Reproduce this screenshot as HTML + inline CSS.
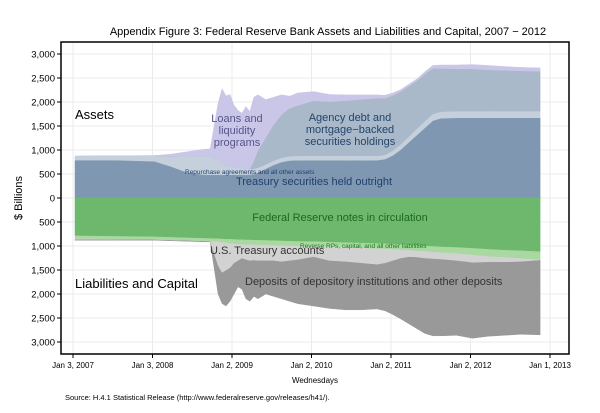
<!DOCTYPE html>
<html><head><meta charset="utf-8"><style>
body{margin:0;background:#fff}
svg{display:block;font-family:"Liberation Sans",Arial,sans-serif}
</style></head><body>
<svg id="chart" width="600" height="413" viewBox="0 0 600 413">
<text x="328" y="35" text-anchor="middle" font-size="11" fill="#000">Appendix Figure 3: Federal Reserve Bank Assets and Liabilities and Capital, 2007 − 2012</text>
<g id="grid"></g>
<g id="areas"></g>
<rect x="61" y="42" width="508" height="312" fill="none" stroke="#000" stroke-width="1.5"/>
<g id="axes" font-size="9.5"></g>
<text transform="translate(22,198) rotate(-90)" text-anchor="middle" font-size="11">$ Billions</text>
<text x="315" y="383" text-anchor="middle" font-size="8">Wednesdays</text>
<text x="65" y="400" font-size="7.5">Source: H.4.1 Statistical Release (http://www.federalreserve.gov/releases/h41/).</text>
<g font-size="11">
<text x="75" y="119" font-size="13">Assets</text>
<text x="75" y="288" font-size="13">Liabilities and Capital</text>
<g fill="#55558a" text-anchor="middle"><text x="237" y="122">Loans and</text><text x="237" y="134">liquidity</text><text x="237" y="146">programs</text></g>
<g fill="#23456b" text-anchor="middle"><text x="350" y="121">Agency debt and</text><text x="350" y="133">mortgage−backed</text><text x="350" y="145">securities holdings</text></g>
<text x="185" y="174" font-size="6.5" fill="#1f3f6f">Repurchase agreements and all other assets</text>
<text x="314" y="185" text-anchor="middle" fill="#1f3f6f">Treasury securities held outright</text>
<text x="340" y="221" text-anchor="middle" fill="#1a6a1a">Federal Reserve notes in circulation</text>
<text x="300" y="248" font-size="6.5" fill="#1a7a1a">Reverse RPs, capital, and all other liabilities</text>
<text x="210" y="254" fill="#333">U.S. Treasury accounts</text>
<text x="245" y="285" fill="#333">Deposits of depository institutions and other deposits</text>
</g>
</svg>
<script>
const times=[0,0.5,1.0,1.2,1.4,1.6,1.7,1.8,1.85,1.9,1.95,2.0,2.05,2.1,2.15,2.2,2.25,2.3,2.4,2.5,2.6,2.7,2.8,3.0,3.2,3.4,3.6,3.8,3.9,4.0,4.1,4.2,4.3,4.4,4.5,4.6,4.8,5.0,5.2,5.4,5.6,5.85];
const treasury=[780,780,755,650,530,480,476,476,476,476,476,476,476,476,476,480,490,520,600,680,740,770,777,777,777,777,777,777,800,880,1000,1150,1300,1450,1600,1650,1660,1660,1660,1660,1660,1660];
const otherAssets=[90,95,120,200,330,380,400,300,250,200,180,160,150,140,130,120,110,100,90,90,90,90,90,90,90,90,90,90,90,100,110,120,130,140,140,140,140,140,140,140,140,140];
const agency=[0,0,0,0,0,0,0,0,0,0,0,0,0,0,0,0,150,350,550,750,900,1000,1050,1150,1130,1150,1180,1200,1180,1150,1100,1050,1000,980,950,900,880,880,860,850,840,830];
const loans=[0,0,10,60,100,150,150,1200,1550,1450,1500,1300,1200,1150,1300,1200,1350,1180,810,580,420,260,270,200,160,130,100,80,70,60,50,50,50,60,70,80,90,100,100,90,80,80];
const notes=[780,790,800,810,820,830,835,840,845,850,850,855,860,860,865,865,870,870,875,880,885,890,895,900,910,920,930,940,945,950,960,970,980,990,1000,1010,1020,1040,1060,1080,1090,1110];
const rrp=[60,60,60,60,60,60,60,60,70,80,90,90,100,100,100,100,100,100,100,100,100,100,100,100,100,100,100,110,110,110,110,110,115,115,120,120,130,140,150,150,160,170];
const treasuryAcct=[20,10,0,0,0,0,0,500,635,570,510,405,340,290,315,335,320,330,325,320,335,310,285,220,290,300,320,330,295,240,180,140,135,145,140,140,150,160,120,100,70,10];
const deposits=[20,20,20,20,20,20,20,600,650,750,700,650,550,650,820,850,760,800,700,750,780,850,920,1030,1000,1010,980,930,1000,1130,1270,1400,1490,1570,1610,1600,1560,1580,1550,1530,1520,1560];
const yTicks=[3000,2500,2000,1500,1000,500,0,-500,-1000,-1500,-2000,-2500,-3000];
const xTickYears=[0,1,2,3,4,5,6];
const xTickLabels=["Jan 3, 2007","Jan 3, 2008","Jan 2, 2009","Jan 2, 2010","Jan 2, 2011","Jan 2, 2012","Jan 1, 2013"];

const NS="http://www.w3.org/2000/svg";
const X=t=>73+79.5*t+2;
const Y=v=>198-v*0.048;
function mk(tag,attrs,parent){const e=document.createElementNS(NS,tag);for(const k in attrs)e.setAttribute(k,attrs[k]);parent.appendChild(e);return e;}
const grid=document.getElementById('grid'),axes=document.getElementById('axes'),areas=document.getElementById('areas');
yTicks.forEach(v=>{
  const l=mk('line',{x1:61,x2:569,y1:Y(v),y2:Y(v),stroke:'#ebebeb','stroke-width':1},grid);
  
  
  const tk=mk('line',{x1:57,x2:61,y1:Y(v),y2:Y(v),stroke:'#000'},axes);
  
  
  const t=mk('text',{x:55,y:Y(v)+3.5,'text-anchor':'end'},axes);
  t.textContent=Math.abs(v).toLocaleString('en-US');
  
  
});
xTickYears.forEach((yr,i)=>{
  const x=X(yr)-2;
  const l=mk('line',{x1:x,x2:x,y1:42,y2:354,stroke:'#ebebeb','stroke-width':1},grid);
  
  
  const tk=mk('line',{x1:x,x2:x,y1:354,y2:358,stroke:'#000'},axes);
  
  
  const t=mk('text',{x:x,y:368,'text-anchor':'middle','font-size':8},axes);
  t.textContent=xTickLabels[i];
  
  
});
function band(lo,hi,color,name){
  let d='M'+times.map((t,i)=>X(t).toFixed(1)+','+Y(hi[i]).toFixed(1)).join('L');
  for(let i=times.length-1;i>=0;i--)d+='L'+X(times[i]).toFixed(1)+','+Y(lo[i]).toFixed(1);
  const p=mk('path',{d:d+'Z',fill:color,stroke:color,'stroke-width':0.5},areas);
  
  
}
function cum(base,arr,sign){return base.map((b,i)=>b+sign*arr[i]);}
const z=times.map(()=>0);
const a1=cum(z,treasury,1),a2=cum(a1,otherAssets,1),a3=cum(a2,agency,1),a4=cum(a3,loans,1);
band(a3,a4,'#cac6e8','loans-area');
band(a2,a3,'#a9b9c9','agency-area');
band(a1,a2,'#c5d0dc','other-assets-area');
band(z,a1,'#7f97b0','treasury-area');
const l1=cum(z,notes,-1),l2=cum(l1,rrp,-1),l3=cum(l2,treasuryAcct,-1),l4=cum(l3,deposits,-1);
band(l3,l4,'#999999','deposits-area');
band(l2,l3,'#d2d2d2','treasury-accounts-area');
band(l1,l2,'#a9d8a0','rrp-area');
band(z,l1,'#6db86d','notes-area');
</script>
</body></html>
